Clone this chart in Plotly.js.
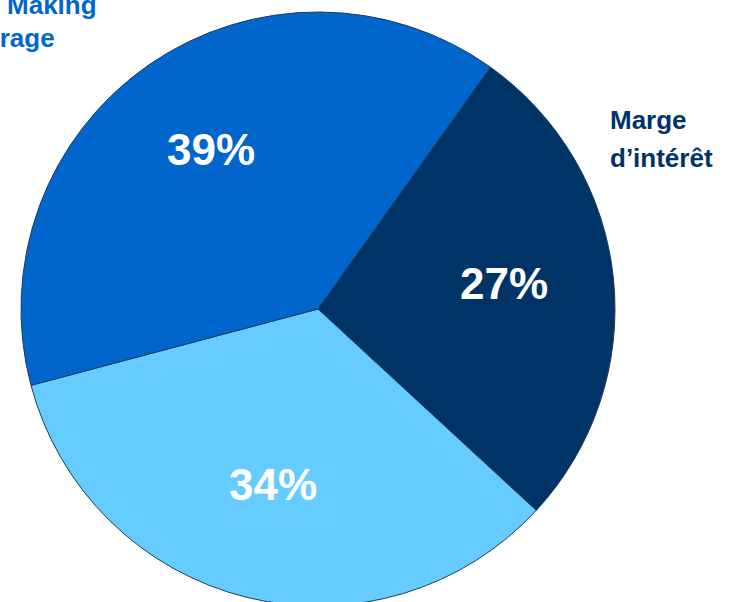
<!DOCTYPE html>
<html>
<head>
<meta charset="utf-8">
<script src="https://cdn.plot.ly/plotly-3.0.1.min.js"></script>
<style>
html, body { margin: 0; padding: 0; overflow: hidden; background: #ffffff; }
#chart { width: 740px; height: 620px; }
</style>
</head>
<body>
<div id="chart"></div>
<script>
// Data
const categories = ["Marge d’intérêt", "Autres", "Market Making & Brokerage"];
const values = [27, 34, 39];
const colors = ["#003366", "#66CCFF", "#0066CC"];

const W = 740, H = 620;
const px = x => x / W;
const py = y => 1 - y / H;

// pie geometry (pixels)
const pieLeft = 21, pieRight = 615, pieTop = 12, pieBottom = 606;
const rotation = 35.5;
const cx = (pieLeft + pieRight) / 2, cy = (pieTop + pieBottom) / 2;
const r = (pieRight - pieLeft) / 2;

const trace = {
  type: "pie",
  labels: categories,
  values: values,
  sort: false,
  direction: "clockwise",
  rotation: rotation,
  marker: { colors: colors, line: { color: "#1F3A5F", width: 1 } },
  textinfo: "none",
  hoverinfo: "none",
  showlegend: false,
  domain: { x: [px(pieLeft), px(pieRight)], y: [py(pieBottom), py(pieTop)] }
};

// percentage labels along each slice bisector, derived from the values
const total = values.reduce((a, b) => a + b, 0);
const pctAnnotations = [];
let acc = 0;
values.forEach((v, i) => {
  const mid = (rotation + (acc + v / 2) / total * 360) * Math.PI / 180;
  acc += v;
  const rr = 0.63 * r;
  pctAnnotations.push({
    text: "<b>" + v + "%</b>",
    x: px(cx + rr * Math.sin(mid)),
    y: py(cy - rr * Math.cos(mid) - 6),
    xref: "paper", yref: "paper", xanchor: "center", yanchor: "middle",
    showarrow: false,
    font: { family: "Liberation Sans, Arial, sans-serif", size: 44, color: "#ffffff", weight: "bold" }
  });
});

const labelFont = (c) => ({ family: "Liberation Sans, Arial, sans-serif", size: 26, color: c, weight: "bold" });

const layout = {
  width: W,
  height: H,
  margin: { l: 0, r: 0, t: 0, b: 0 },
  paper_bgcolor: "#ffffff",
  showlegend: false,
  annotations: pctAnnotations.concat([
    { text: "<b>Marge</b>", x: px(608), y: py(120), xref: "paper", yref: "paper", xanchor: "left", yanchor: "middle", showarrow: false, font: labelFont("#003366") },
    { text: "<b>d’intérêt</b>", x: px(608), y: py(157.5), xref: "paper", yref: "paper", xanchor: "left", yanchor: "middle", showarrow: false, font: labelFont("#003366") },
    { text: "<b>Market Making</b>", x: px(99), y: py(5), xref: "paper", yref: "paper", xanchor: "right", yanchor: "middle", showarrow: false, font: labelFont("#0066CC") },
    { text: "<b>& Brokerage</b>", x: px(57), y: py(37.5), xref: "paper", yref: "paper", xanchor: "right", yanchor: "middle", showarrow: false, font: labelFont("#0066CC") }
  ])
};

Plotly.newPlot("chart", [trace], layout, { staticPlot: true, displayModeBar: false });
</script>
</body>
</html>
